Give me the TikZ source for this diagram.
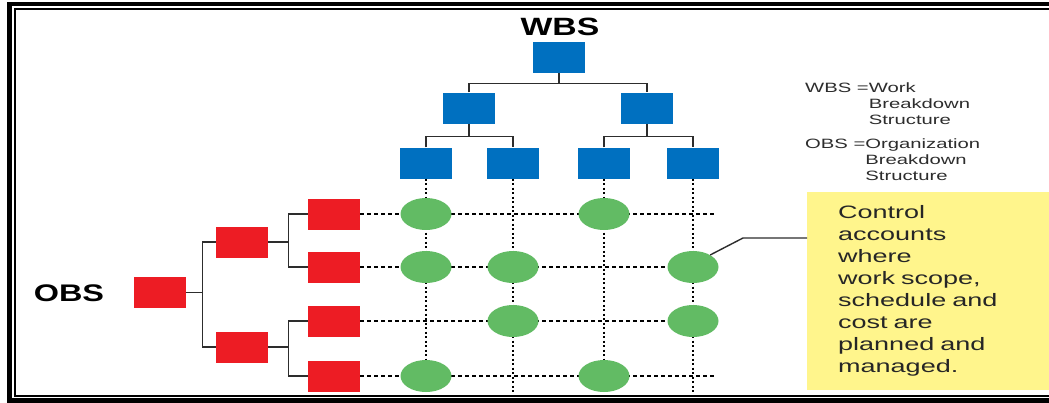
\documentclass[tikz,border=0pt]{standalone}
\usepackage{fontspec}
\newfontfamily\widesans[FakeStretch=1.5]{Liberation Sans}
\newfontfamily\headsans[FakeStretch=1.35]{Liberation Sans}
\usetikzlibrary{shapes.geometric, positioning}
\definecolor{wbsblue}{RGB}{0,112,192}
\definecolor{obsred}{RGB}{237,28,36}
\definecolor{cagreen}{RGB}{98,187,100}
\definecolor{noteyellow}{RGB}{255,245,140}
\definecolor{inkgray}{RGB}{45,45,45}

\begin{document}
\begin{tikzpicture}[x=1pt, y=-1pt,
  wbsbox/.style={rectangle, fill=wbsblue, minimum width=52pt, minimum height=31pt, inner sep=0pt},
  obsbox/.style={rectangle, fill=obsred, minimum width=52pt, minimum height=31pt, inner sep=0pt},
  account/.style={ellipse, fill=cagreen, minimum width=51pt, minimum height=32pt, inner sep=0pt},
  link/.style={draw=inkgray, line width=1.4pt},
  gridh/.style={draw=black, line width=1.5pt, dash pattern=on 4pt off 3pt},
  gridv/.style={draw=black, line width=1.5pt, dash pattern=on 2pt off 2.5pt},
  title/.style={text=black, font=\headsans\bfseries\fontsize{25}{29}\selectfont},
  keytext/.style={text=inkgray, inner sep=0pt, font=\widesans\fontsize{13.5}{16}\selectfont},
  callout/.style={fill=noteyellow, text=black!85, minimum width=228pt, minimum height=198pt,
    text width=190pt, inner xsep=31pt, inner ysep=0pt, align=left,
    font=\widesans\fontsize{18}{22}\selectfont}]
\useasboundingbox (0,0) rectangle (1049,402);
\fill[white] (0,0) rectangle (1049,402);

% frame
\draw[line width=4.5pt] (1049,4) -- (9.5,4) -- (9.5,400.5) -- (1049,400.5);
\draw[line width=2pt] (1049,9) -- (15,9) -- (15,396) -- (1049,396);

% WBS tree
\node[title] (wbs) at (560,27) {WBS};
\node[wbsbox] (w0) at (559,57.5) {};
\node[wbsbox] (w1) at (469,108) {};
\node[wbsbox] (w2) at (647,108) {};
\node[wbsbox] (w11) at (426,163) {};
\node[wbsbox] (w12) at (513,163) {};
\node[wbsbox] (w21) at (604,163) {};
\node[wbsbox] (w22) at (693,163) {};

\draw[link] (w0.south) -- ++(0,10) coordinate (w0j);
\draw[link] (w1.north) |- (w0j) -| (w2.north);
\draw[link] (w1.south) -- ++(0,13) coordinate (w1j);
\draw[link] (w11.north) |- (w1j) -| (w12.north);
\draw[link] (w2.south) -- ++(0,13) coordinate (w2j);
\draw[link] (w21.north) |- (w2j) -| (w22.north);

% OBS tree
\node[title, font=\headsans\bfseries\fontsize{24}{28}\selectfont] (obs) at (69,293) {OBS};
\node[obsbox] (o0) at (160,292.5) {};
\node[obsbox] (o1) at (242,242) {};
\node[obsbox] (o2) at (242,347) {};
\node[obsbox] (o11) at (334,214) {};
\node[obsbox] (o12) at (334,267) {};
\node[obsbox] (o21) at (334,321) {};
\node[obsbox] (o22) at (334,376) {};

\draw[link] (o0.east) -- ++(16,0) coordinate (o0j);
\draw[link] (o1.west) -| (o0j) |- (o2.west);
\draw[link] (o1.east) -- ++(20,0) coordinate (o1j);
\draw[link] (o11.west) -| (o1j) |- (o12.west);
\draw[link] (o2.east) -- ++(20,0) coordinate (o2j);
\draw[link] (o21.west) -| (o2j) |- (o22.west);

% grid of dotted lines
\coordinate (floor) at (0,393);
\coordinate (rim) at (716,0);
\foreach \c in {w11,w12,w21,w22}
  \draw[gridv] (\c.south) -- (\c |- floor);
\foreach \r in {o11,o12,o21,o22}
  \draw[gridh] (\r.east) -- (\r -| rim);

% control accounts
\foreach \c/\r [count=\i] in {w11/o11, w21/o11, w11/o12, w12/o12, w22/o12,
                              w12/o21, w22/o21, w11/o22, w21/o22}
  \node[account] (ca\i) at (\c |- \r) {};

% legend
\node[keytext, anchor=north west] (wbskey) at (805,81)
  {\begin{tabular}{@{}l@{\ }l@{}}WBS & =Work\\ & \phantom{=}Breakdown\\ & \phantom{=}Structure\end{tabular}};
\node[keytext, anchor=north west] (obskey) at (805,137)
  {\begin{tabular}{@{}l@{\ }l@{}}OBS & =Organization\\ & \phantom{=}Breakdown\\ & \phantom{=}Structure\end{tabular}};

% note box
\node[callout, anchor=north west] (note) at (807,192)
  {Control\\accounts\\where\\work scope,\\schedule and\\cost are\\planned and\\managed.};
\coordinate (bend) at (743,238);
\draw[link] (ca5.35) -- (bend) -- (bend -| note.west);
\end{tikzpicture}
\end{document}
